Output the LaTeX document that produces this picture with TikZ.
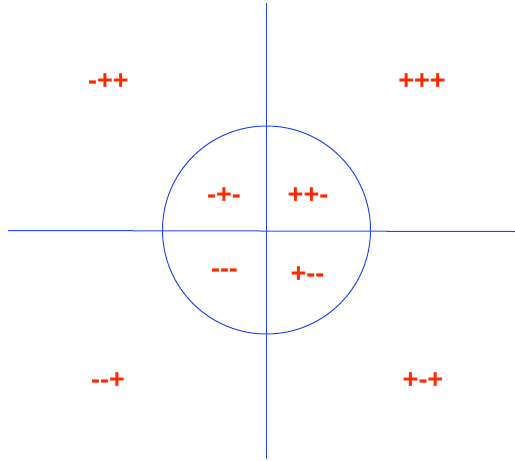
\documentclass[tikz,border=0pt]{standalone}
\usepackage{fontspec}
\newfontfamily\signfont{Liberation Sans}[Ligatures=ResetAll]
\definecolor{axisblue}{RGB}{30,70,240}
\definecolor{signred}{RGB}{255,40,0}
\begin{document}
\begin{tikzpicture}[x=1pt,y=-1pt,
  axis/.style={draw=axisblue,line width=1pt},
  sign/.style={text=signred,font=\signfont\fontsize{27}{27}\selectfont\bfseries,inner sep=0pt}]
\useasboundingbox (0,0) rectangle (515,461);
\coordinate (top) at (266.8,3);
\coordinate (bottom) at (266.8,459);
\coordinate (left) at (8,230.5);
\coordinate (right) at (515,231.5);
\coordinate (c) at (266.5,230);
\draw[axis] (top) -- (bottom);
\draw[axis] (left) -- (right);
\draw[axis] (c) circle[radius=104];
\node[sign] (mpp) at (108.5,82) {-++};
\node[sign] (ppp) at (422,82) {+++};
\node[sign] (mpm) at (224,196) {-+-};
\node[sign] (ppm) at (308,196) {++-};
\node[sign] (mmm) at (224.5,273) {-{}-{}-};
\node[sign] (pmm) at (307.5,275) {+-{}-};
\node[sign] (mmp) at (108,381) {-{}-+};
\node[sign] (pmp) at (423,381) {+-+};
\end{tikzpicture}
\end{document}
